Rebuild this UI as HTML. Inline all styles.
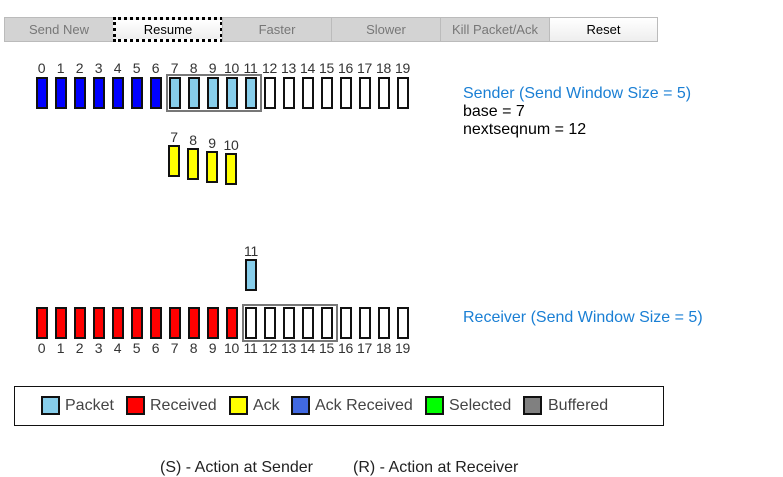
<!DOCTYPE html>
<html><head><meta charset="utf-8"><style>
*{box-sizing:border-box;margin:0;padding:0}
body{width:783px;height:470px;overflow:hidden;background:#fff;font-family:"Liberation Sans",Arial,sans-serif;position:relative}
.a{position:absolute}
.btn{position:absolute;top:17px;height:25px;background:#d3d3d3;border:1px solid #bbb;color:#777;font-size:13px;text-align:center;line-height:23px}
.row{position:absolute;left:32px;display:flex}
.row>div{width:19px;text-align:center;font-size:14px;color:#333;line-height:15px;white-space:nowrap;letter-spacing:-0.3px}
.b{display:block;width:12px;height:32px;border:2px solid #111;margin:0 auto;background:#fff}
.bl{background:#0000ff}.lb{background:#87ceeb}.rd{background:#ff0000}.ye{background:#ffff00}
.win{position:absolute;border:2px solid #777}
.lab{position:absolute;font-size:14px;color:#333;width:19px;text-align:center;letter-spacing:-0.3px}
.sq{position:absolute;top:396px;width:19px;height:19px;border:2px solid #111}
.lt{position:absolute;top:396px;font-size:16px;color:#444;line-height:19px}
</style></head><body>
<div class="btn" style="left:4px;width:110px">Send New</div>
<div class="btn" style="left:113px;width:110px;background:linear-gradient(#fff,#eee);border:3px dotted #000;color:#000;line-height:19px">Resume</div>
<div class="btn" style="left:222px;width:110px">Faster</div>
<div class="btn" style="left:331px;width:110px">Slower</div>
<div class="btn" style="left:440px;width:110px">Kill Packet/Ack</div>
<div class="btn" style="left:549px;width:109px;background:linear-gradient(#fff,#eee);color:#000">Reset</div>

<div class="row" style="top:61px"><div>0</div><div>1</div><div>2</div><div>3</div><div>4</div><div>5</div><div>6</div><div>7</div><div>8</div><div>9</div><div>10</div><div>11</div><div>12</div><div>13</div><div>14</div><div>15</div><div>16</div><div>17</div><div>18</div><div>19</div></div>
<div class="win" style="left:166px;top:74px;width:96px;height:38px"></div>
<div class="row" style="top:77px"><div><i class="b bl"></i></div><div><i class="b bl"></i></div><div><i class="b bl"></i></div><div><i class="b bl"></i></div><div><i class="b bl"></i></div><div><i class="b bl"></i></div><div><i class="b bl"></i></div><div><i class="b lb"></i></div><div><i class="b lb"></i></div><div><i class="b lb"></i></div><div><i class="b lb"></i></div><div><i class="b lb"></i></div><div><i class="b"></i></div><div><i class="b"></i></div><div><i class="b"></i></div><div><i class="b"></i></div><div><i class="b"></i></div><div><i class="b"></i></div><div><i class="b"></i></div><div><i class="b"></i></div></div>

<div class="a" style="left:463px;top:85px;font-size:16px;color:#1a7fd4;line-height:18px">Sender (Send Window Size = 5)</div>
<div class="a" style="left:463px;top:103px;font-size:16px;color:#000;line-height:18px">base = 7<br>nextseqnum = 12</div>

<div class="lab" style="left:164.5px;top:129px">7</div><i class="b ye a" style="left:168px;top:145px"></i>
<div class="lab" style="left:183.5px;top:132px">8</div><i class="b ye a" style="left:187px;top:148px"></i>
<div class="lab" style="left:202.5px;top:135px">9</div><i class="b ye a" style="left:206px;top:151px"></i>
<div class="lab" style="left:221.5px;top:137px">10</div><i class="b ye a" style="left:225px;top:153px"></i>

<div class="lab" style="left:241.5px;top:243px">11</div><i class="b lb a" style="left:245px;top:259px"></i>

<div class="win" style="left:242px;top:304px;width:96px;height:38px"></div>
<div class="row" style="top:307px"><div><i class="b rd"></i></div><div><i class="b rd"></i></div><div><i class="b rd"></i></div><div><i class="b rd"></i></div><div><i class="b rd"></i></div><div><i class="b rd"></i></div><div><i class="b rd"></i></div><div><i class="b rd"></i></div><div><i class="b rd"></i></div><div><i class="b rd"></i></div><div><i class="b rd"></i></div><div><i class="b"></i></div><div><i class="b"></i></div><div><i class="b"></i></div><div><i class="b"></i></div><div><i class="b"></i></div><div><i class="b"></i></div><div><i class="b"></i></div><div><i class="b"></i></div><div><i class="b"></i></div></div>
<div class="row" style="top:341px"><div>0</div><div>1</div><div>2</div><div>3</div><div>4</div><div>5</div><div>6</div><div>7</div><div>8</div><div>9</div><div>10</div><div>11</div><div>12</div><div>13</div><div>14</div><div>15</div><div>16</div><div>17</div><div>18</div><div>19</div></div>

<div class="a" style="left:463px;top:309px;font-size:16px;color:#1a7fd4;line-height:18px">Receiver (Send Window Size = 5)</div>

<div class="a" style="left:14px;top:386px;width:650px;height:40px;border:1px solid #111"></div>
<div class="sq lb" style="left:41px"></div><div class="lt" style="left:65px">Packet</div>
<div class="sq rd" style="left:126px"></div><div class="lt" style="left:150px">Received</div>
<div class="sq ye" style="left:229px"></div><div class="lt" style="left:253px">Ack</div>
<div class="sq" style="left:291px;background:#4169e1"></div><div class="lt" style="left:315px">Ack Received</div>
<div class="sq" style="left:425px;background:#00ff00"></div><div class="lt" style="left:449px">Selected</div>
<div class="sq" style="left:523px;background:#808080"></div><div class="lt" style="left:548px">Buffered</div>

<div class="a" style="left:160px;top:459px;font-size:16px;color:#222;line-height:18px">(S) - Action at Sender</div>
<div class="a" style="left:353px;top:459px;font-size:16px;color:#222;line-height:18px">(R) - Action at Receiver</div>
</body></html>
